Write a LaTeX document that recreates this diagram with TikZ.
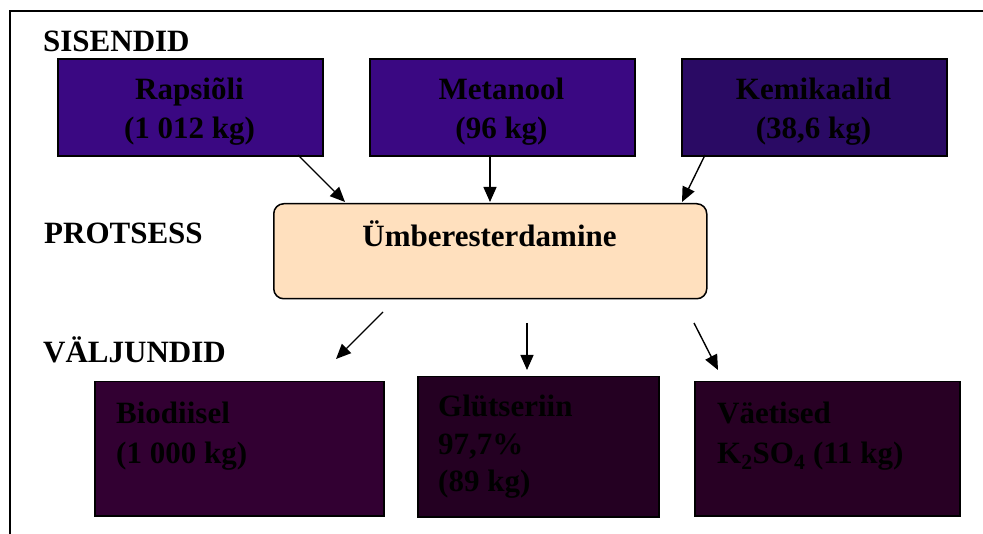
\documentclass[tikz,border=0pt]{standalone}
\usepackage{fontspec}
\setmainfont{Liberation Serif}
\usetikzlibrary{arrows.meta}
\newcommand\dgfont{\fontsize{31}{39}\selectfont\bfseries}
\definecolor{inA}{RGB}{58,8,130}
\definecolor{inB}{RGB}{42,10,100}
\definecolor{outA}{RGB}{50,0,50}
\definecolor{outB}{RGB}{36,0,34}
\definecolor{outC}{RGB}{40,0,36}
\definecolor{peach}{RGB}{255,224,190}
\begin{document}
\begin{tikzpicture}[x=1pt,y=-1pt,
  lbl/.style={anchor=base west, inner sep=0pt, font=\dgfont},
  inbox/.style={draw=black, line width=1.8pt, minimum width=265pt, minimum height=97pt, inner sep=0pt, anchor=north west},
  intext/.style={anchor=north, inner sep=0pt, align=center, font=\dgfont},
  outbox/.style={draw=black, line width=1.5pt, inner sep=0pt, anchor=north west},
  outtext/.style={anchor=north west, inner sep=0pt, align=left, font=\fontsize{31}{40}\selectfont\bfseries},
  arr/.style={-{Triangle[length=15pt,width=13pt]}, line width=1.4pt}
]
\useasboundingbox (0,0) rectangle (983,534);
\draw[line width=1.8pt] (983,11) -- (10,11) -- (10,534);

\node[lbl] (lsis) at (43,52) {SISENDID};
\node[lbl] (lpro) at (44,244) {PROTSESS};
\node[lbl] (lval) at (43,363) {VÄLJUNDID};

\node[inbox, fill=inA] (rap) at (57,58) {};
\node[inbox, fill=inA] (met) at (369,58) {};
\node[inbox, fill=inB] (kem) at (681,58) {};
\node[intext] (rapt) at (189.5,78) {Rapsiõli\\(1 012 kg)};
\node[intext] (mett) at (501.5,78) {Metanool\\(96 kg)};
\node[intext] (kemt) at (813.5,78) {Kemikaalid\\(38,6 kg)};

\node[draw=black, line width=1.5pt, fill=peach, rounded corners=10pt, minimum width=433pt, minimum height=95pt, anchor=north west, inner sep=0pt] (proc) at (273,203) {};
\node[anchor=base, inner sep=0pt, font=\dgfont] (proct) at (489.5,247) {Ümberesterdamine};

\node[outbox, fill=outA, minimum width=289pt, minimum height=134pt] (bio) at (94,381) {};
\node[outbox, fill=outB, minimum width=241pt, minimum height=140pt] (gly) at (417,376) {};
\node[outbox, fill=outC, minimum width=265pt, minimum height=134pt] (vae) at (694,381) {};

\node[outtext] (biot) at (116,402) {Biodiisel\\(1 000 kg)};
\node[outtext, font=\fontsize{31}{37.5}\selectfont\bfseries] (glyt) at (438,395) {Glütseriin\\97,7\%\\(89 kg)};
\node[outtext] (vaet) at (717,402) {Väetised\\K\textsubscript{2}SO\textsubscript{4} (11 kg)};

\coordinate (a1) at (298,155);
\coordinate (b1) at (345,202);
\coordinate (a2) at (490,155);
\coordinate (b2) at (490,202);
\coordinate (a3) at (705,155);
\coordinate (b3) at (682,202);
\draw[arr] (a1) -- (b1);
\draw[arr] (a2) -- (b2);
\draw[arr] (a3) -- (b3);

\coordinate (c1) at (383,312);
\coordinate (d1) at (336,359);
\coordinate (c2) at (527,323);
\coordinate (d2) at (527,370);
\coordinate (c3) at (694,323);
\coordinate (d3) at (718,370);
\draw[arr] (c1) -- (d1);
\draw[arr] (c2) -- (d2);
\draw[arr] (c3) -- (d3);
\end{tikzpicture}
\end{document}
